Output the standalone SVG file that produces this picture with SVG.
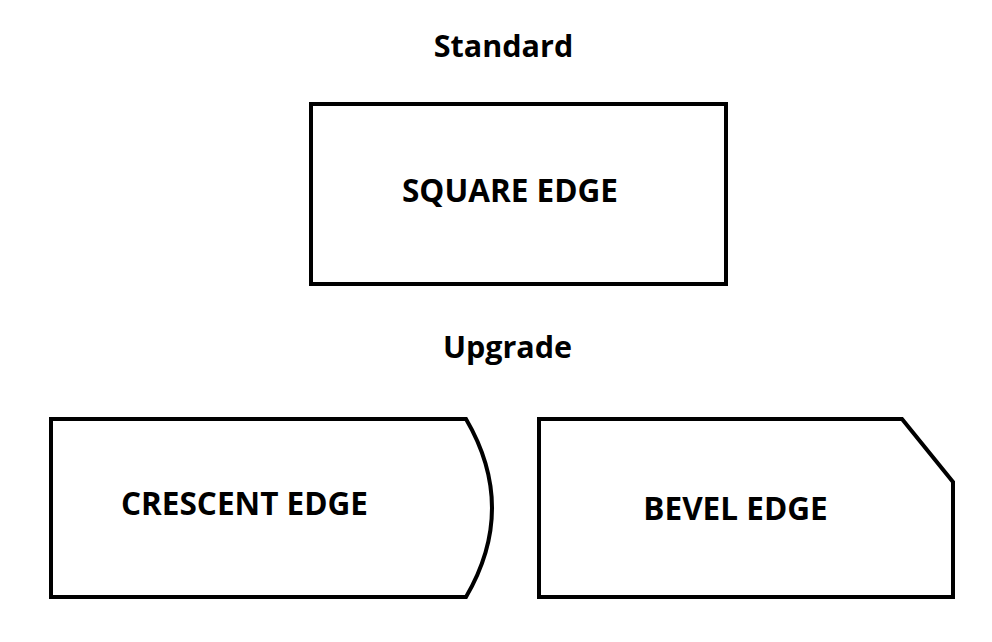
<svg xmlns="http://www.w3.org/2000/svg" width="992" height="642" viewBox="0 0 992 642">
<style>
.shape{fill:#fff;stroke:#000;stroke-width:4;stroke-linejoin:miter}
.t{font-family:"Open Sans","Noto Sans","Liberation Sans",sans-serif;font-weight:bold;fill:#000;font-size:31.5px}
.h{font-size:30.5px}
</style>
<rect width="992" height="642" fill="#fff"/>
<text class="t h" x="503.5" y="57" text-anchor="middle">Standard</text>
<text class="t h" x="507.5" y="358" text-anchor="middle">Upgrade</text>
<g id="square">
<rect class="shape" x="311" y="104" width="415" height="180"/>
<text class="t" x="510" y="202" text-anchor="middle">SQUARE EDGE</text>
</g>
<g id="crescent">
<path class="shape" d="M51,419 L466,419 Q518,508 466,597 L51,597 Z"/>
<text class="t" x="244.5" y="515" text-anchor="middle">CRESCENT EDGE</text>
</g>
<g id="bevel">
<path class="shape" d="M539,419 L902,419 L953,482 L953,597 L539,597 Z"/>
<text class="t" x="735.5" y="520" text-anchor="middle">BEVEL EDGE</text>
</g>
<g id="connectors"/>
</svg>
